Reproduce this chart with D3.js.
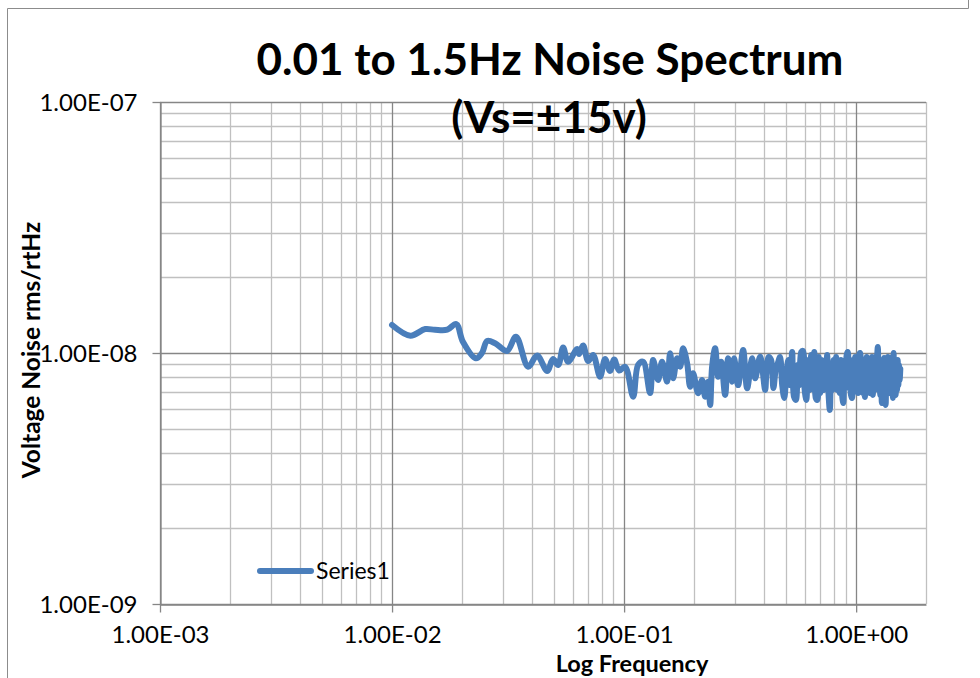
<!DOCTYPE html>
<html>
<head>
<meta charset="utf-8">
<script src="https://cdn.jsdelivr.net/npm/d3@7"></script>
<style>
  html, body { margin: 0; padding: 0; background: #fff; }
  svg { display: block; }
</style>
</head>
<body>
<svg id="chart" width="980" height="678"></svg>
<script>
// Measured voltage noise density, 0.01 Hz to ~1.5 Hz (Vs = ±15 V)
const freqHz = [
  0.0100,0.0120,0.0139,0.0153,0.0173,0.0189,0.0202,0.0230,0.0244,0.0257,
  0.0278,0.0313,0.0342,0.0386,0.0422,0.0466,0.0494,0.0520,0.0546,0.0574,
  0.0627,0.0640,0.0666,0.0700,0.0735,0.0788,0.0828,0.0870,0.0906,0.0952,
  0.1010,0.1094,0.1149,0.1208,0.1294,0.1334,0.1401,0.1458,0.1532,0.1579,
  0.1627,0.1692,0.1743,0.1796,0.1869,0.1925,0.1983,0.2084,0.2169,0.2234,
  0.2302,0.2349,0.2395,0.2468,0.2542,0.2619,0.2725,0.2808,0.2922,0.2980,
  0.3100,0.3258,0.3390,0.3562,0.3671,0.3857,0.4054,
  0.41,0.42,0.43,0.44,0.45,0.46,0.47,0.48,0.49,0.50,
  0.51,0.52,0.53,0.54,0.55,0.56,0.57,0.58,0.59,0.60,
  0.61,0.62,0.63,0.64,0.65,0.66,0.67,0.68,0.69,0.70,
  0.71,0.72,0.73,0.74,0.75,0.76,0.77,0.78,0.79,0.80,
  0.81,0.82,0.83,0.84,0.85,0.86,0.87,0.88,0.89,0.90,
  0.91,0.92,0.93,0.94,0.95,0.96,0.97,0.98,0.99,1.00,
  1.01,1.02,1.03,1.04,1.05,1.06,1.07,1.08,1.09,1.10,
  1.11,1.12,1.13,1.14,1.15,1.16,1.17,1.18,1.19,1.20,
  1.21,1.22,1.23,1.24,1.25,1.26,1.27,1.28,1.29,1.30,
  1.31,1.32,1.33,1.34,1.35,1.36,1.37,1.38,1.39,1.40,
  1.41,1.42,1.43,1.44,1.45,1.46,1.47,1.48,1.49,1.50,
  1.51,1.52,1.53,1.54,1.55
];

// Noise density in nV rms/rtHz
const noiseNv = [
  12.93,11.72,12.46,12.37,12.38,13.05,11.09,9.52,10.00,11.16,
  10.93,10.19,11.61,8.82,9.77,8.48,9.46,8.96,10.52,9.23,
  10.37,9.91,10.71,9.29,9.82,8.05,9.46,8.48,9.42,8.51,
  8.82,6.70,8.96,9.23,6.93,9.38,7.81,9.23,7.69,9.97,
  7.93,9.52,8.82,10.44,9.10,7.34,8.30,6.91,7.81,6.70,
  7.69,6.21,8.82,10.44,8.05,9.23,6.81,9.52,7.69,9.52,
  7.45,10.28,7.24,9.52,7.93,9.67,7.12,
  8.17,9.64,9.38,7.25,8.55,9.12,9.64,7.45,6.62,8.17,
  9.38,7.45,10.09,6.68,6.50,8.96,7.45,10.09,10.19,7.12,
  6.50,9.38,7.12,9.82,7.45,10.09,6.62,6.50,9.64,6.93,
  9.38,7.12,9.12,7.45,9.82,6.93,5.93,8.96,7.12,9.38,
  7.25,9.64,7.12,9.12,6.93,9.38,6.81,6.32,8.96,7.45,
  9.82,10.09,7.25,9.12,6.81,6.62,9.38,7.12,9.64,7.25,
  9.38,6.93,9.82,10.00,7.45,9.12,6.93,9.38,6.68,7.81,
  9.64,7.12,9.12,6.93,9.38,7.25,9.64,6.81,8.96,7.12,
  9.64,7.45,9.38,10.57,7.12,9.12,6.81,9.38,6.32,8.96,
  6.93,9.55,7.12,6.21,9.12,7.45,9.64,6.93,9.12,7.12,
  9.38,7.25,9.64,6.62,10.00,7.12,9.12,6.81,8.96,7.12,
  9.38,7.45,8.96,7.81,8.64
];
const NANO = 1e-9;

const xTicks = [1e-3, 1e-2, 1e-1, 1e0];
const xTickLabels = ["1.00E-03", "1.00E-02", "1.00E-01", "1.00E+00"];
const yTicks = [1e-9, 1e-8, 1e-7];
const yTickLabels = ["1.00E-09", "1.00E-08", "1.00E-07"];

const titleLines = ["0.01 to 1.5Hz Noise Spectrum", "(Vs=±15v)"];
const xTitle = "Log Frequency";
const yTitle = "Voltage Noise rms/rtHz";
const seriesName = "Series1";

const FONT = "Lato, 'Open Sans', 'Liberation Sans', sans-serif";
const LINE_BLUE = "#4a7ebb";
const GRID_MAJOR = "#868686";
const GRID_MINOR = "#c0c0c0";

const svg = d3.select("#chart");

// Chart frame
svg.append("path")
  .attr("d", "M7.5,678 V8.5 H968.5 V0")
  .attr("fill", "none").attr("stroke", "#8c8c8c").attr("stroke-width", 1);

const plot = { left: 160, right: 926, top: 102, bottom: 604 };

const x = d3.scaleLog().domain([1e-3, 2]).range([plot.left, plot.right]);
const y = d3.scaleLog().domain([1e-9, 1e-7]).range([plot.bottom, plot.top]);

// Log grid: every 1..9 multiple of each decade inside the domain
function logGrid(domain) {
  const out = [];
  const lo = Math.floor(Math.log10(domain[0]));
  const hi = Math.ceil(Math.log10(domain[1]));
  for (let e = lo; e <= hi; e++) {
    for (let k = 1; k <= 9; k++) {
      const v = k * Math.pow(10, e);
      if (v >= domain[0] * 0.9999 && v <= domain[1] * 1.0001) out.push({ v, major: k === 1 });
    }
  }
  return out;
}

const grid = svg.append("g");
const xg = logGrid(x.domain());
const yg = logGrid(y.domain());

grid.selectAll(".vminor").data(xg.filter(d => !d.major)).join("line")
  .attr("x1", d => Math.round(x(d.v)) + 0.5).attr("x2", d => Math.round(x(d.v)) + 0.5)
  .attr("y1", plot.top).attr("y2", plot.bottom)
  .attr("stroke", GRID_MINOR).attr("stroke-width", 1.3);
grid.selectAll(".hminor").data(yg.filter(d => !d.major)).join("line")
  .attr("y1", d => Math.round(y(d.v)) + 0.5).attr("y2", d => Math.round(y(d.v)) + 0.5)
  .attr("x1", plot.left).attr("x2", plot.right)
  .attr("stroke", GRID_MINOR).attr("stroke-width", 1.3);
grid.selectAll(".vmajor").data(xg.filter(d => d.major)).join("line")
  .attr("x1", d => Math.round(x(d.v)) + 0.5).attr("x2", d => Math.round(x(d.v)) + 0.5)
  .attr("y1", plot.top).attr("y2", plot.bottom)
  .attr("stroke", GRID_MAJOR).attr("stroke-width", 1.3);
grid.selectAll(".hmajor").data(yg.filter(d => d.major)).join("line")
  .attr("y1", d => Math.round(y(d.v)) + 0.5).attr("y2", d => Math.round(y(d.v)) + 0.5)
  .attr("x1", plot.left).attr("x2", plot.right)
  .attr("stroke", GRID_MAJOR).attr("stroke-width", 1.3);

// Axes
const xAxis = svg.append("g")
  .attr("transform", `translate(0,${plot.bottom + 0.5})`)
  .call(d3.axisBottom(x).tickValues(xTicks)
    .tickFormat((d, i) => xTickLabels[i]).tickSize(8).tickSizeOuter(0));
const yAxis = svg.append("g")
  .attr("transform", `translate(${plot.left + 0.5},0)`)
  .call(d3.axisLeft(y).tickValues(yTicks)
    .tickFormat((d, i) => yTickLabels[i]).tickSize(8).tickSizeOuter(0));

[xAxis, yAxis].forEach(g => {
  g.select(".domain").attr("stroke", GRID_MAJOR).attr("stroke-width", 1.3);
  g.selectAll(".tick line").attr("stroke", GRID_MAJOR).attr("stroke-width", 1.3);
  g.selectAll(".tick text")
    .attr("font-family", FONT).attr("font-size", 24).attr("fill", "#000");
});
xAxis.selectAll(".tick text").attr("y", 30).attr("dy", "0.35em");
yAxis.selectAll(".tick text").attr("x", -23).attr("dy", "0.35em");

// Series
const series = freqHz.map((f, i) => ({ f, v: noiseNv[i] * NANO }));
const line = d3.line()
  .x(d => x(d.f))
  .y(d => y(d.v))
  .curve(d3.curveCatmullRom.alpha(0.5));

svg.append("path")
  .datum(series)
  .attr("d", line)
  .attr("fill", "none")
  .attr("stroke", LINE_BLUE)
  .attr("stroke-width", 6)
  .attr("stroke-linejoin", "round")
  .attr("stroke-linecap", "round");

// Legend
const legend = svg.append("g").attr("transform", "translate(260,571)");
legend.append("line")
  .attr("x1", 0).attr("x2", 51).attr("y1", 0).attr("y2", 0)
  .attr("stroke", LINE_BLUE).attr("stroke-width", 6).attr("stroke-linecap", "round");
legend.append("text")
  .attr("x", 56).attr("y", 0).attr("dy", "0.35em")
  .attr("font-family", FONT).attr("font-size", 23).attr("fill", "#000")
  .text(seriesName);

// Titles
svg.append("text")
  .attr("x", 550).attr("y", 75)
  .attr("text-anchor", "middle")
  .attr("font-family", FONT).attr("font-weight", "bold").attr("font-size", 44)
  .attr("fill", "#000")
  .text(titleLines[0]);
svg.append("text")
  .attr("x", 549).attr("y", 133)
  .attr("text-anchor", "middle")
  .attr("font-family", FONT).attr("font-weight", "bold").attr("font-size", 44)
  .attr("fill", "#000")
  .text(titleLines[1]);

svg.append("text")
  .attr("x", 632).attr("y", 672)
  .attr("text-anchor", "middle")
  .attr("font-family", FONT).attr("font-weight", "bold").attr("font-size", 23.5)
  .attr("fill", "#000")
  .text(xTitle);

svg.append("text")
  .attr("transform", "translate(40,350) rotate(-90)")
  .attr("text-anchor", "middle")
  .attr("font-family", FONT).attr("font-weight", "bold").attr("font-size", 24.5)
  .attr("fill", "#000")
  .text(yTitle);
</script>
</body>
</html>
